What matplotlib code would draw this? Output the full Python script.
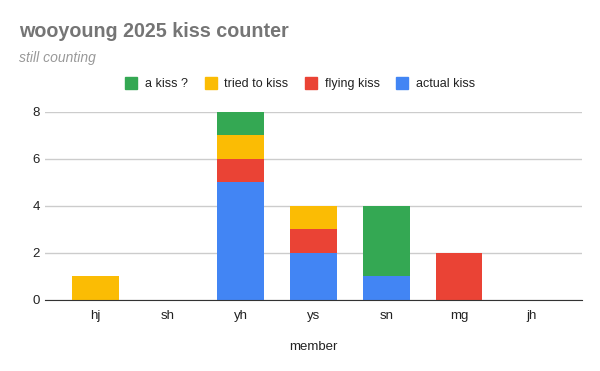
import numpy as np
import matplotlib
matplotlib.use('Agg')
import matplotlib.pyplot as plt
from matplotlib.lines import Line2D

members = ['hj', 'sh', 'yh', 'ys', 'sn', 'mg', 'jh']
actual_kiss = [0, 0, 5, 2, 1, 0, 0]
flying_kiss = [0, 0, 1, 1, 0, 2, 0]
tried_to_kiss = [1, 0, 1, 1, 0, 0, 0]
a_kiss_q = [0, 0, 1, 0, 3, 0, 0]

series = [('actual kiss', actual_kiss, '#4285F4'),
          ('flying kiss', flying_kiss, '#EA4335'),
          ('tried to kiss', tried_to_kiss, '#FBBC04'),
          ('a kiss ?', a_kiss_q, '#34A853')]

matplotlib.rc('font', family=['Liberation Sans', 'DejaVu Sans'])

fig = plt.figure(figsize=(6, 3.71), dpi=100)
ax = fig.add_axes([0.075, 0.1914, 0.895, 0.508])

ind = np.arange(len(members))
bottom = np.zeros(len(members))
for name, vals, color in series:
    v = np.array(vals, dtype=float)
    ax.bar(ind, v, 0.645, bottom=bottom, color=color, label=name, zorder=2)
    bottom += v

ax.set_xlim(-0.69, 6.69)
ax.set_ylim(0, 8)
ax.set_yticks([0, 2, 4, 6, 8])
ax.set_xticks(ind)
ax.set_xticklabels(members)
ax.tick_params(length=0, labelsize=9.5, colors='#222222')
ax.tick_params(axis='x', pad=7)
ax.grid(axis='y', color='#cccccc', linewidth=1, zorder=0)
for s in ['top', 'right', 'left']:
    ax.spines[s].set_visible(False)
ax.spines['bottom'].set_color('#333333')
ax.spines['bottom'].set_zorder(3)
ax.set_xlabel('member', fontsize=9.5, color='#222222', labelpad=14)

fig.text(0.032, 0.916, 'wooyoung 2025 kiss counter', fontsize=14.2, fontweight='bold',
         color='#757575', va='center')
fig.text(0.032, 0.843, 'still counting', fontsize=10, style='italic',
         color='#999999', va='center')

handles = [Line2D([], [], marker='s', linestyle='', markersize=8.5, color=c)
           for _, _, c in reversed(series)]
labels = [n for n, _, _ in reversed(series)]
fig.legend(handles, labels, loc='center', bbox_to_anchor=(0.5, 0.773), ncol=4,
           frameon=False, fontsize=9, handlelength=1.0, handletextpad=0.6,
           columnspacing=1.3, labelcolor='#222222')

fig.savefig('out.png', dpi=100)
